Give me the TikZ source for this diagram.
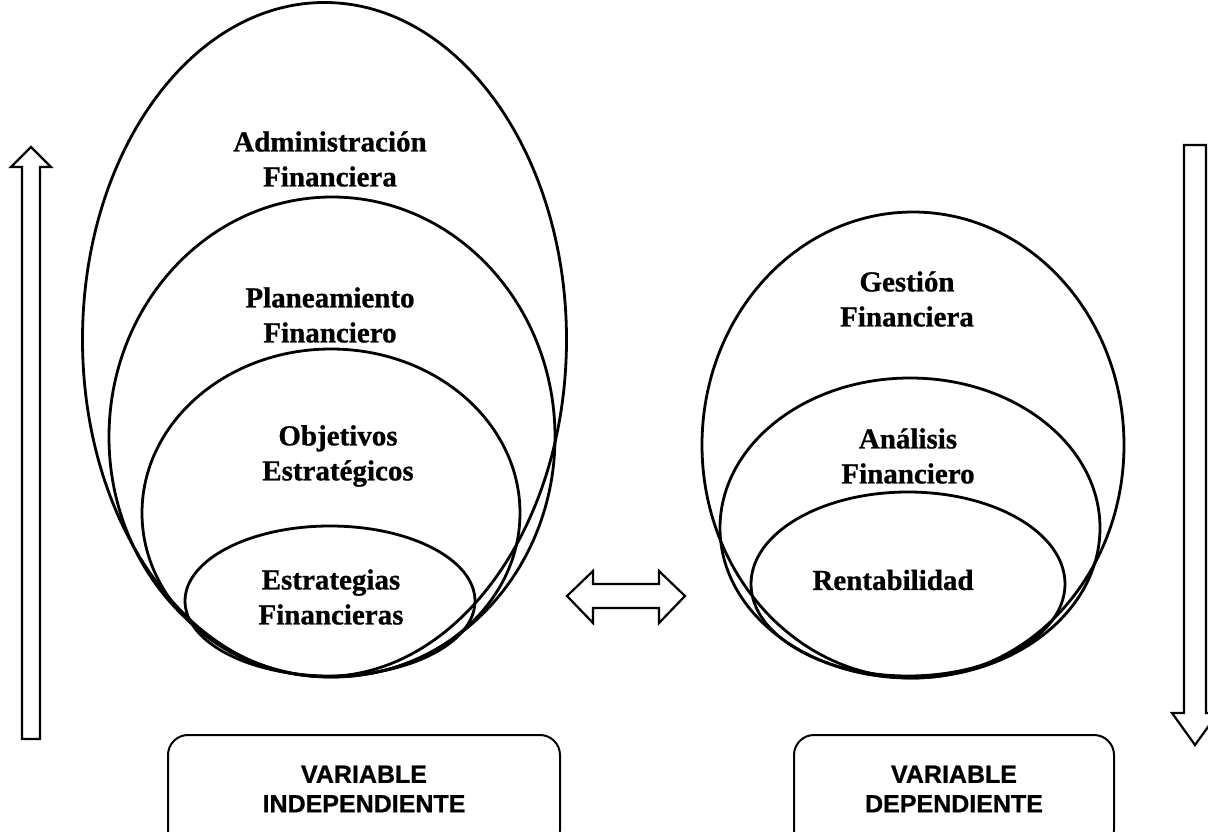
\documentclass[tikz,border=0pt]{standalone}
\usepackage{fontspec}
\setmainfont{Liberation Serif}
\newfontfamily\boxfont{Liberation Sans}
\begin{document}
\begin{tikzpicture}[x=1pt,y=-1pt,
  ring/.style={draw=black,line width=2.8pt},
  lbl/.style={align=center,font=\bfseries\fontsize{29}{35}\selectfont\addfontfeature{FakeBold=0.8},inner sep=0pt},
  varbox/.style={draw=black,line width=2pt,rounded corners=20pt},
  vartext/.style={align=center,font=\boxfont\bfseries\fontsize{25}{29.5}\selectfont\addfontfeature{FakeBold=0.8},inner sep=0pt},
  blockarrow/.style={draw=black,line width=2.2pt,fill=white,line join=miter}]
\useasboundingbox (0,0) rectangle (1208,832);
\clip (0,0) rectangle (1208,832);
% left nested ellipses
\draw[ring] (324.5,339.5) ellipse [x radius=242, y radius=337];
\draw[ring] (332,437) ellipse [x radius=223, y radius=240];
\draw[ring] (331,513) ellipse [x radius=189, y radius=164];
\draw[ring] (330,601) ellipse [x radius=145, y radius=75];
% right nested ellipses
\draw[ring] (913,445) ellipse [x radius=211, y radius=233];
\draw[ring] (910,528) ellipse [x radius=190, y radius=150];
\draw[ring] (908,584) ellipse [x radius=157, y radius=92];
% labels
\node[lbl] (adm) at (330,159) {Administración\\Financiera};
\node[lbl] (plan) at (330,315) {Planeamiento\\Financiero};
\node[lbl] (obj) at (338,456) {Objetivos\\Estratégicos};
\node[lbl] (est) at (331,597) {Estrategias\\Financieras};
\node[lbl] (ges) at (907,299) {Gestión\\Financiera};
\node[lbl] (ana) at (908,456) {Análisis\\Financiero};
\node[lbl] (ren) at (893,580) {Rentabilidad};
% variable boxes
\draw[varbox] (168,735) rectangle (560,850);
\draw[varbox] (794,735) rectangle (1114,850);
\node[vartext] (vi) at (364,789) {VARIABLE\\INDEPENDIENTE};
\node[vartext] (vd) at (954,789) {VARIABLE\\DEPENDIENTE};
% up arrow (left)
\draw[blockarrow] (22,739) -- (22,167) -- (11,167) -- (31,147) -- (51,167) -- (40,167) -- (40,739) -- cycle;
% down arrow (right)
\draw[blockarrow] (1184,145) -- (1206,145) -- (1206,713) -- (1218,713) -- (1195,745) -- (1172,713) -- (1184,713) -- cycle;
% double arrow
\draw[blockarrow] (567,596) -- (593,571) -- (593,584) -- (659,584) -- (659,571) -- (685,596) -- (659,623) -- (659,608) -- (593,608) -- (593,623) -- cycle;
\end{tikzpicture}
\end{document}
